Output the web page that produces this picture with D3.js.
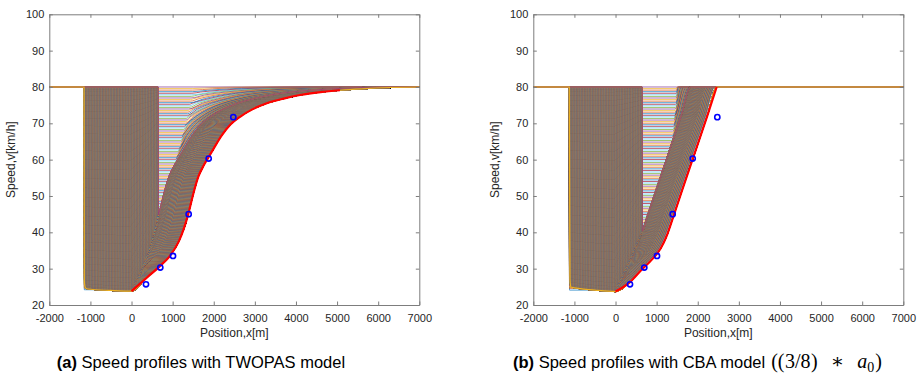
<!DOCTYPE html>
<html><head><meta charset="utf-8">
<script src="https://cdn.jsdelivr.net/npm/d3@7"></script>
<style>body{margin:0;background:#fff}svg{display:block}</style>
</head><body>
<svg id="c" width="917" height="383"></svg>
<script>
// ---------- data ----------
const xTicks = [-2000,-1000,0,1000,2000,3000,4000,5000,6000,7000];
const yTicks = [20,30,40,50,60,70,80,90,100];
const cruiseSpeed = 80;
const observedX = [352, 700, 1009, 1390, 1877, 2476];
const observedV = [25.7, 30.3, 33.5, 45.0, 60.3, 71.7];

// TWOPAS: red envelope (acceleration from crawl speed)
const twopasEnvX = [0, 370, 690, 940, 1150, 1260, 1380, 1500, 1625, 1750, 1870, 1990, 2190, 2400, 2640, 2950, 3290, 3700, 4100, 4600, 5070];
const twopasEnvV = [23.8, 27.5, 30.7, 33.6, 37.5, 40.6, 45.0, 50.5, 55.3, 58.3, 60.6, 62.9, 66.6, 69.6, 71.8, 73.9, 75.5, 76.8, 77.8, 78.6, 79.1];
const twopasTailX = [5600, 6300, 7000];
const twopasTailV = [79.5, 79.85, 80];
// start of acceleration vs minimum speed (stripe ends)
const twopasStartV = [24, 30, 35, 40, 45, 50, 55, 60, 65, 70, 75, 80];
const twopasStartX = [0, 260, 430, 560, 660, 800, 940, 1080, 1200, 1310, 1410, 1500];
// left/bottom edge of the profile bundle
const twopasEdgeX = [-1155, -1148, -1120, -1066, -500, 0];
const twopasEdgeV = [80, 26.5, 24.7, 24.4, 24.0, 23.8];

// CBA model ((3/8)*a0)
const cbaEnvX = [0, 350, 600, 900, 1100, 1250, 1400, 1600, 1800, 2000, 2230, 2460];
const cbaEnvV = [23.7, 26.3, 29.3, 32.7, 35.6, 39.2, 44.1, 50.9, 57.6, 64.3, 72.0, 80];
const cbaTailX = [];
const cbaTailV = [];
const cbaStartV = [24, 30, 35, 40, 45, 50, 55, 60, 65, 70, 75, 80];
const cbaStartX = [0, 250, 450, 640, 820, 1000, 1150, 1280, 1360, 1420, 1460, 1490];
const cbaEdgeX = [-1125, -1108, -1092, -1083, -500, 0];
const cbaEdgeV = [80, 27, 25.2, 24.9, 24.1, 23.7];

const profileCounts = [130, 700]; // striped profiles, bundle profiles
const bundleRightX = 650;

const colorOrder = ['#0072BD','#D95319','#EDB120','#7E2F8E','#77AC30','#4DBEEE','#A2142F'];

// ---------- drawing ----------
const svg = d3.select('#c');
const PW = 370, TOP = 14.3, BOT = 305;
const FONT = '"Liberation Sans", Arial, sans-serif';

function panel(cfg){
  const g = svg.append('g');
  const x = d3.scaleLinear().domain([-2000,7000]).range([cfg.left, cfg.left+PW]);
  const y = d3.scaleLinear().domain([20,100]).range([BOT, TOP]);
  const clipId = 'clip' + cfg.id;
  svg.append('clipPath').attr('id', clipId).append('rect')
    .attr('x', cfg.left).attr('y', TOP-1).attr('width', PW).attr('height', BOT-TOP+1);
  const lines = g.append('g').attr('clip-path', `url(#${clipId})`);

  const fullX = cfg.envX.concat(cfg.tailX), fullV = cfg.envV.concat(cfg.tailV);
  const envInv = d3.scaleLinear().domain(fullV).range(fullX).clamp(true);
  const startX = d3.scaleLinear().domain(cfg.startV).range(cfg.startX).clamp(true);
  const startInv = d3.scaleLinear().domain(cfg.startX).range(cfg.startV).clamp(true);
  const edgeTop = cfg.edgeX[0];

  function accel(x0, v0){
    const shift = x0 - envInv(v0);
    const pts = [];
    fullV.forEach((v,i)=>{ if (v > v0 + 1e-6) pts.push([fullX[i] + shift, v]); });
    const last = pts.length ? pts[pts.length-1][0] : x0;
    pts.push([Math.max(last + 50, 7200), cruiseSpeed]);
    return pts;
  }
  const line = d3.line().x(d=>x(d[0])).y(d=>y(d[1])).curve(d3.curveMonotoneX);
  let ci = 0;
  const draw = (pts, col, w) => lines.append('path').attr('d', line(pts))
      .attr('fill','none').attr('stroke', col).attr('stroke-width', w);

  const nH = profileCounts[0];
  const vMin = cfg.edgeV[cfg.edgeV.length-1] + 0.4;
  d3.range(nH).forEach(i=>{
    const vk = vMin + i*(cruiseSpeed - vMin)/(nH-1);
    const xa = Math.max(startX(vk), edgeTop + 12);
    const pts = [[-2000,cruiseSpeed],[edgeTop,cruiseSpeed],[edgeTop+6,vk],[xa,vk]].concat(accel(xa,vk));
    draw(pts, colorOrder[ci++ % 7], 0.7);
  });
  const nV = profileCounts[1];
  const bottom = d3.scaleLinear().domain(cfg.edgeX).range(cfg.edgeV);
  d3.range(nV).forEach(i=>{
    const xs = edgeTop + 10 + i*(bundleRightX - edgeTop - 10)/(nV-1);
    let pts = [[-2000,cruiseSpeed],[xs,cruiseSpeed]];
    if (xs + 5 <= 0){
      pts.push([xs+5, bottom(xs+5)]);
      cfg.edgeX.forEach((ex,j)=>{ if (ex > xs+5) pts.push([ex, cfg.edgeV[j]]); });
      pts = pts.concat(accel(0, cfg.envV[0]));
    } else {
      const vf = startInv(xs+5);
      pts.push([xs+5, vf]);
      pts = pts.concat(accel(xs+5, vf));
    }
    draw(pts, colorOrder[ci++ % 7], 0.75);
  });
  const edgePts = [[-2000,cruiseSpeed]].concat(cfg.edgeX.map((ex,j)=>[ex,cfg.edgeV[j]])).concat(accel(0,cfg.envV[0]));
  draw(edgePts, '#EDB120', 1.2);

  lines.append('path').attr('d', line(cfg.envX.map((ex,j)=>[ex,cfg.envV[j]])))
    .attr('fill','none').attr('stroke','#FF0000').attr('stroke-width',2.2);
  lines.selectAll('circle.obs').data(observedX).enter().append('circle')
    .attr('cx',(d)=>x(d)).attr('cy',(d,i)=>y(observedV[i])).attr('r',2.6)
    .attr('fill','none').attr('stroke','#0000FF').attr('stroke-width',1.6);

  const axCol = '#7d7d7d', txtCol = '#262626';
  const fmt = d => String(d);
  const styleAx = s => { s.selectAll('path,line').attr('stroke', axCol); s.selectAll('text').attr('fill', txtCol)
      .style('font-family', FONT).style('font-size','11px'); };
  g.append('g').attr('transform',`translate(0,${BOT})`)
    .call(d3.axisBottom(x).tickValues(xTicks).tickFormat(fmt).tickSize(-3.5).tickSizeOuter(0).tickPadding(9)).call(styleAx);
  g.append('g').attr('transform',`translate(0,${TOP})`)
    .call(d3.axisTop(x).tickValues(xTicks).tickSize(-3.5).tickSizeOuter(0).tickFormat('')).call(styleAx);
  g.append('g').attr('transform',`translate(${cfg.left},0)`)
    .call(d3.axisLeft(y).tickValues(yTicks).tickFormat(fmt).tickSize(-3.5).tickSizeOuter(0).tickPadding(5)).call(styleAx);
  g.append('g').attr('transform',`translate(${cfg.left+PW},0)`)
    .call(d3.axisRight(y).tickValues(yTicks).tickSize(-3.5).tickSizeOuter(0).tickFormat('')).call(styleAx);
  g.selectAll('.domain').attr('stroke-width',1);

  g.append('text').attr('x', cfg.left + PW/2).attr('y', 337).attr('text-anchor','middle')
    .style('font-family', FONT).style('font-size','12px').attr('fill',txtCol)
    .text('Position,x[m]');
  g.append('text').attr('transform',`translate(${cfg.left-34},${(TOP+BOT)/2}) rotate(-90)`).attr('text-anchor','middle')
    .style('font-family', FONT).style('font-size','12px').attr('fill',txtCol)
    .text('Speed,v[km/h]');
  return g;
}

panel({id:'a', left:49.3, envX:twopasEnvX, envV:twopasEnvV, tailX:twopasTailX, tailV:twopasTailV,
  startV:twopasStartV, startX:twopasStartX, edgeX:twopasEdgeX, edgeV:twopasEdgeV});
panel({id:'b', left:533.3, envX:cbaEnvX, envV:cbaEnvV, tailX:cbaTailX, tailV:cbaTailV,
  startV:cbaStartV, startX:cbaStartX, edgeX:cbaEdgeX, edgeV:cbaEdgeV});

// captions
const CAP = 16.5;
const ta = svg.append('text').attr('y', 368).style('font-family', FONT).style('font-size', CAP+'px').attr('fill','#000');
ta.append('tspan').style('font-weight','bold').text('(a)');
ta.append('tspan').text(' Speed profiles with TWOPAS model');
const wa = ta.node().getComputedTextLength();
ta.attr('x', 201 - wa/2);

const tb = svg.append('text').attr('y', 368).attr('x', 513).style('font-family', FONT).style('font-size', CAP+'px').attr('fill','#000');
tb.append('tspan').style('font-weight','bold').text('(b)');
tb.append('tspan').text(' Speed profiles with CBA model');
const wbt = tb.node().getComputedTextLength();
const MF = '"Liberation Serif","DejaVu Serif",serif';
const mx0 = 513 + wbt + 6;
const tm = svg.append('text').attr('y', 368).attr('x', mx0).style('font-family', MF).attr('fill','#000');
const MS = 20;
const mParts = [
  tm.append('tspan').style('font-size', MS+'px').text('(('),
  tm.append('tspan').attr('dx', 0.5).style('font-size', MS+'px').text('3/8'),
  tm.append('tspan').attr('dx', 0.5).style('font-size', MS+'px').text(')'),
  tm.append('tspan').attr('dx', 5).style('font-size', MS+'px').text('\u2217'),
  tm.append('tspan').attr('dx', 5).style('font-size', MS+'px').style('font-style','italic').text('a'),
  tm.append('tspan').attr('dy', 3.5).style('font-size', (MS*0.7)+'px').text('0'),
  tm.append('tspan').attr('dy', -3.5).attr('dx', 1).style('font-size', MS+'px').text(')')
];
const wm = tm.node().getComputedTextLength();
const extra = Math.min(16, Math.max(0, (893 - mx0) - wm));
mParts[3].attr('dx', 5 + extra/2);
mParts[4].attr('dx', 5 + extra/2);
</script>
</body></html>
